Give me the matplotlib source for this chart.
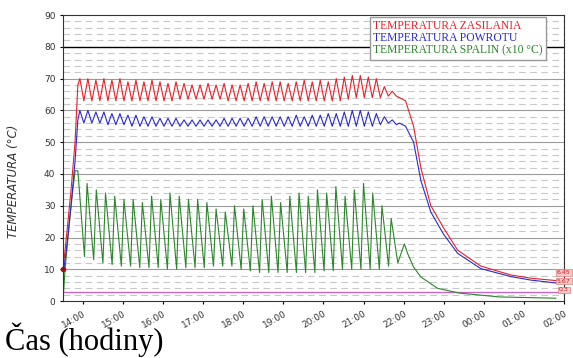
import numpy as np
import matplotlib.pyplot as plt

# time in hours (13.5 = 13:30, 26 = 02:00 next day)
hour_ticks = list(range(14, 27))
hour_labels = ['14:00', '15:00', '16:00', '17:00', '18:00', '19:00', '20:00',
               '21:00', '22:00', '23:00', '00:00', '01:00', '02:00']

# --- supply temperature (red) ---
red_start_t = [13.5, 13.6, 13.7, 13.8, 13.87]
red_start_v = [10, 22, 35, 50, 68]
red_peak = [70, 70, 69.5, 70, 69.5, 70, 69, 69.5, 69, 69.5,
            69, 68.5, 69, 68.5, 68, 68, 68.5, 68, 68.5, 68,
            68, 68.5, 69, 68.5, 69, 69, 68.5, 69, 69.5, 69,
            69.5, 69, 70, 70.5, 71, 71, 70.5, 70, 67.5, 66]
red_trough = [63, 63, 63, 63, 63, 63, 63, 63, 63, 63,
              63, 63, 63.5, 63.5, 63.5, 63.5, 63.5, 63.5, 63, 63,
              63, 63, 63, 63, 63, 63, 63, 63, 63, 63,
              63, 63, 63, 63.5, 64, 64, 64, 64, 64.5, 64.5]
red_tail_t = [21.9, 22.05, 22.25, 22.43, 22.68, 23.0, 23.35, 23.93, 24.68, 25.18, 25.8]
red_tail_v = [64, 63, 55, 42, 30, 23, 16, 11, 8.2, 7.2, 6.45]

# --- return temperature (blue) ---
blue_start_t = [13.5, 13.6, 13.7, 13.8, 13.87]
blue_start_v = [8, 18, 30, 44, 57]
blue_peak = [60, 60, 59.5, 59.5, 59, 59, 58.5, 58.5, 58, 58,
             57.5, 57.5, 57.5, 57, 57, 57, 57, 57, 57.5, 57.5,
             57.5, 57.5, 58, 58, 58, 58, 58, 58.5, 58, 58.5,
             58.5, 59, 59, 59.5, 60, 60, 59.5, 59, 58, 57]
blue_trough = [56, 56, 56, 55.5, 55.5, 55.5, 55, 55, 55, 55,
               55, 55, 55, 55, 55, 55, 55, 55, 55, 55,
               55, 55, 55, 55, 55, 55, 55, 55, 55, 55,
               55, 55, 55, 55, 55, 55, 55, 55.5, 56, 55.5]
blue_tail_t = [21.9, 22.05, 22.25, 22.43, 22.68, 23.0, 23.35, 23.93, 24.68, 25.18, 25.8]
blue_tail_v = [56, 55, 50, 38, 28, 21, 15, 10.2, 7.7, 6.6, 5.7]

# --- flue gas temperature x10 (green) ---
green_start_t = [13.5, 13.55, 13.7, 13.8]
green_start_v = [0, 10, 30, 41]
green_peak = [41, 37, 35, 34, 33, 32, 32, 31, 33, 32,
              34, 33, 32, 32, 31, 29, 28, 30, 29, 30,
              32, 33, 31, 33, 34, 33, 35, 34, 36, 33,
              35, 37, 34, 30, 26]
green_trough = [14, 13, 12, 11.5, 11, 11, 10.5, 10.5, 10.5, 10,
                10, 10.5, 10.5, 10.5, 11, 11, 11, 10, 9.5, 9,
                9, 9, 9, 9, 9, 9, 9.5, 9.5, 10, 10,
                10, 10, 10, 11, 12]
green_tail_t = [22.02, 22.1, 22.25, 22.43, 22.85, 23.4, 24.4, 25.8]
green_tail_v = [18, 15, 10.7, 7.6, 4, 2.5, 1.3, 0.9]

end_labels = ['6.45', '5.67', '0.3']
end_label_pos = [9.1, 6.3, 3.5]


def osc(start_t, start_v, peaks, troughs, t0, period, tail_t, tail_v, rise=0.5):
    t = list(start_t)
    v = list(start_v)
    for k, (p, q) in enumerate(zip(peaks, troughs)):
        t += [t0 + k * period, t0 + k * period + period * rise]
        v += [p, q]
    return t + tail_t, v + tail_v


rt, rv = osc(red_start_t, red_start_v, red_peak, red_trough, 13.92, 0.2, red_tail_t, red_tail_v)
bt, bv = osc(blue_start_t, blue_start_v, blue_peak, blue_trough, 13.92, 0.2, blue_tail_t, blue_tail_v)
gt, gv = osc(green_start_t, green_start_v, green_peak, green_trough, 13.87, 0.23,
             green_tail_t, green_tail_v, rise=0.72)

fig = plt.figure(figsize=(5.73, 3.58), dpi=100)
ax = fig.add_axes([0.110, 0.159, 0.874, 0.799])

# grid
for y in np.arange(0, 90, 2):
    if y % 10:
        ax.axhline(y, color='#c8c8c8', lw=0.8, dashes=(6, 4), zorder=0)
for y in range(10, 90, 10):
    ax.axhline(y, color='black' if y == 80 else '#9a9a9a', lw=1.0 if y == 80 else 0.8, zorder=0)
ax.axhline(3, color='#cc66cc', lw=1.0, zorder=1)

ax.plot(gt, gv, color='#2b862b', lw=0.8, label='TEMPERATURA SPALIN (x10 °C)')
ax.plot(rt, rv, color='#e8202a', lw=0.8, label='TEMPERATURA ZASILANIA')
ax.plot(bt, bv, color='#2a2acc', lw=0.8, label='TEMPERATURA POWROTU')
ax.plot([13.5], [10], 'o', color='#aa1010', ms=3, clip_on=False)

ax.set_xlim(13.5, 26)
ax.set_ylim(0, 90)
ax.set_xticks(hour_ticks)
ax.set_xticklabels(hour_labels, rotation=30, ha='right', rotation_mode='anchor')
ax.set_yticks(range(0, 91, 10))
ax.tick_params(labelsize=6.5, labelcolor='#333333', length=2)
ax.set_ylabel('TEMPERATURA (°C)', fontsize=8.5, style='italic', color='#333333')
ax.yaxis.set_label_coords(-0.086, 0.42)

h, l = ax.get_legend_handles_labels()
order = [1, 2, 0]
leg = ax.legend([h[i] for i in order], [l[i] for i in order], loc='upper right',
                bbox_to_anchor=(0.968, 1.0), handlelength=0, handletextpad=0,
                labelcolor=['#e8202a', '#2a2acc', '#2b862b'],
                prop={'family': 'Liberation Serif', 'size': 8.4},
                fancybox=False, framealpha=1, edgecolor='#999999',
                borderpad=0.3, labelspacing=0.0, borderaxespad=0.15)
for lh in leg.legend_handles:
    lh.set_visible(False)

for txt, yv in zip(end_labels, end_label_pos):
    ax.text(1.0, yv, txt, transform=ax.get_yaxis_transform(), fontsize=4.5,
            color='#d02020', ha='center', va='center', clip_on=False,
            bbox=dict(boxstyle='square,pad=0.15', fc='#f8c8c8', ec='#e08080', lw=0.5))

for s in ax.spines.values():
    s.set_color('#333333')

fig.text(0.008, 0.022, 'Čas (hodiny)', fontsize=22, family='Liberation Serif', va='baseline')

plt.savefig('out.png', dpi=100)
